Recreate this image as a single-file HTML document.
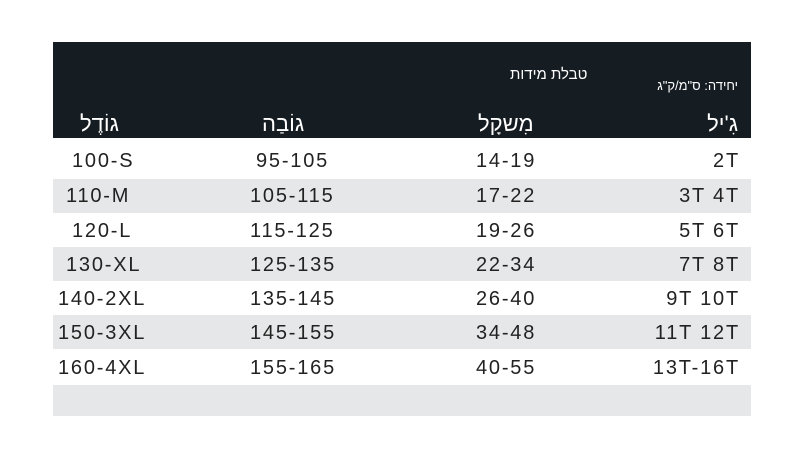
<!DOCTYPE html>
<html><head><meta charset="utf-8"><style>
body{margin:0;width:800px;height:450px;background:#fff;position:relative;overflow:hidden;font-family:"Liberation Sans","DejaVu Sans",sans-serif;color:#222}
.hd{position:absolute;left:53px;top:42px;width:698px;height:96px;background:#151c22}
.r{position:absolute;left:53px;width:698px;height:34px}
.g{background:#e6e7e8}
.t{position:absolute;font-size:20px;line-height:20px;white-space:nowrap;letter-spacing:1.8px}
.h{position:absolute;color:#fff;white-space:nowrap}
</style></head><body>
<div class="hd"></div>
<div class="h" style="left:510px;top:66px;font-size:15px">טבלת מידות</div>
<div class="h" style="right:62px;top:78px;font-size:13px">יחידה: ס"מ/ק"ג</div>
<div class="h" style="right:62px;top:111px;font-size:22px">גִ'יל</div>
<div class="h" style="left:478px;top:111px;font-size:22px">מִשקָל</div>
<div class="h" style="left:262px;top:111px;font-size:22px">גוֹבַה</div>
<div class="h" style="left:80px;top:111px;font-size:22px">גוֹדֶל</div>
<div class="r g" style="top:179px"></div>
<div class="r g" style="top:247px"></div>
<div class="r g" style="top:315px"></div>
<div class="r g" style="top:385px;height:31px"></div>
<div class="t" style="left:72px;top:151px">100-S</div><div class="t" style="left:256px;top:151px">95-105</div><div class="t" style="left:476px;top:151px">14-19</div><div class="t" style="right:60px;top:151px">2T</div>
<div class="t" style="left:66px;top:186px">110-M</div><div class="t" style="left:250px;top:186px">105-115</div><div class="t" style="left:476px;top:186px">17-22</div><div class="t" style="right:60px;top:186px">3T 4T</div>
<div class="t" style="left:72px;top:221px">120-L</div><div class="t" style="left:250px;top:221px">115-125</div><div class="t" style="left:476px;top:221px">19-26</div><div class="t" style="right:60px;top:221px">5T 6T</div>
<div class="t" style="left:66px;top:255px">130-XL</div><div class="t" style="left:250px;top:255px">125-135</div><div class="t" style="left:476px;top:255px">22-34</div><div class="t" style="right:60px;top:255px">7T 8T</div>
<div class="t" style="left:58px;top:289px">140-2XL</div><div class="t" style="left:250px;top:289px">135-145</div><div class="t" style="left:476px;top:289px">26-40</div><div class="t" style="right:60px;top:289px">9T 10T</div>
<div class="t" style="left:58px;top:323px">150-3XL</div><div class="t" style="left:250px;top:323px">145-155</div><div class="t" style="left:476px;top:323px">34-48</div><div class="t" style="right:60px;top:323px">11T 12T</div>
<div class="t" style="left:58px;top:358px">160-4XL</div><div class="t" style="left:250px;top:358px">155-165</div><div class="t" style="left:476px;top:358px">40-55</div><div class="t" style="right:60px;top:358px">13T-16T</div>
</body></html>
